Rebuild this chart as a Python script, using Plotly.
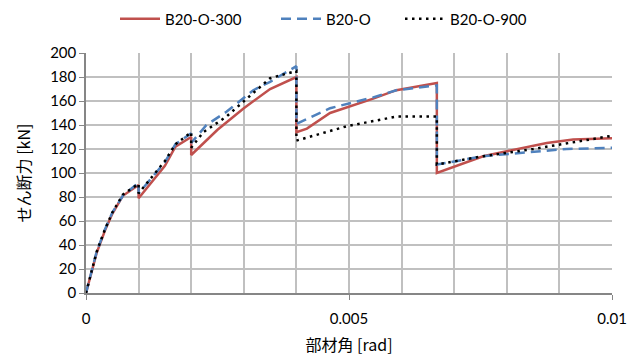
import plotly.graph_objects as go

# Envelope curves: drift angle [rad] vs. shear force [kN]
angle_300 = [0, 0.0001, 0.0002, 0.00036, 0.0005, 0.0007, 0.001, 0.001, 0.0015, 0.0017,
             0.002, 0.002, 0.0025, 0.003, 0.0035, 0.004, 0.004, 0.0042, 0.00464, 0.00546,
             0.0059, 0.00667, 0.00667, 0.00755, 0.00876, 0.00926, 0.01]
shear_300 = [0, 17, 33, 52, 66, 81, 90, 79, 106, 122,
             130, 115, 136, 154, 170, 180, 134, 137, 150, 162,
             169, 175, 100, 114, 125, 128, 129]

angle_o = [0, 0.0001, 0.0002, 0.00036, 0.0005, 0.0007, 0.001, 0.001, 0.0015, 0.0017,
           0.002, 0.002, 0.00229, 0.00267, 0.00318, 0.0035, 0.004, 0.004, 0.00464, 0.00546,
           0.0059, 0.00667, 0.00667, 0.00755, 0.00812, 0.00914, 0.01]
shear_o = [0, 17, 34, 53, 67, 81, 92, 83, 109, 124,
           133, 125, 140, 151, 169, 176, 189, 141, 154, 163,
           169, 173, 107, 114, 116, 120, 121]

angle_900 = [0, 0.0001, 0.0002, 0.00036, 0.0005, 0.0007, 0.001, 0.001, 0.0015, 0.0017,
             0.002, 0.002, 0.00223, 0.00267, 0.0035, 0.004, 0.004, 0.00496, 0.0059, 0.00667,
             0.00667, 0.00755, 0.0085, 0.01]
shear_900 = [0, 17, 34, 53, 67, 82, 91, 83, 110, 124,
             134, 121, 134, 147, 179, 185, 127, 139, 147, 147,
             107, 114, 120, 131]

x_ticks = [0, 0.005, 0.01]
x_labels = ["0", "0.005", "0.01"]

font_main = "Lato, 'Noto Sans CJK JP', sans-serif"
cjk_font = "'Noto Sans CJK JP', sans-serif"
grid_col = "#C0C0C0"
axis_col = "#868686"

fig = go.Figure()
fig.add_trace(go.Scatter(x=angle_300, y=shear_300, mode="lines", name="B20-O-300",
                         legend="legend",
                         line=dict(color="#C0504D", width=2.5)))
fig.add_trace(go.Scatter(x=angle_o, y=shear_o, mode="lines", name="B20-O",
                         legend="legend2",
                         line=dict(color="#4F81BD", width=2.5, dash="10px,6px")))
fig.add_trace(go.Scatter(x=angle_900, y=shear_900, mode="lines", name="B20-O-900",
                         legend="legend3",
                         line=dict(color="black", width=2.5, dash="2.5px,4.5px")))

# one single-entry legend per series, laid out in a row above the plot
legend_style = dict(orientation="h", xanchor="left", yanchor="middle",
                    xref="container", yref="container", y=1 - 19 / 358,
                    font=dict(size=15), itemwidth=40, bgcolor="rgba(0,0,0,0)")

fig.update_layout(
    width=640, height=358,
    margin=dict(l=86, r=28, t=53, b=65, autoexpand=False),
    paper_bgcolor="white", plot_bgcolor="white",
    font=dict(family=font_main, size=15, color="black"),
    showlegend=True,
    legend=dict(legend_style, x=115 / 640),
    legend2=dict(legend_style, x=276 / 640),
    legend3=dict(legend_style, x=400 / 640),
    xaxis=dict(range=[0, 0.01], tickvals=x_ticks, ticktext=x_labels, automargin=False,
               ticks="outside", ticklen=5, tickcolor=axis_col, ticklabelstandoff=6,
               showline=True, linecolor=axis_col, linewidth=1.5,
               showgrid=True, gridcolor=grid_col, gridwidth=1.5,
               minor=dict(dtick=0.001, showgrid=True, gridcolor=grid_col, gridwidth=1.5),
               zeroline=False,
               title=dict(text="部材角 [rad]", standoff=14,
                          font=dict(family=cjk_font, size=16))),
    yaxis=dict(range=[0, 200], dtick=20, automargin=False,
               ticks="outside", ticklen=5, tickcolor=axis_col,
               showline=True, linecolor=axis_col, linewidth=1.5,
               showgrid=True, gridcolor=grid_col, gridwidth=1.5,
               zeroline=False,
               title=dict(text="せん断力 [kN]", standoff=16,
                          font=dict(family=cjk_font, size=16))),
)

fig.write_html("out.html")
